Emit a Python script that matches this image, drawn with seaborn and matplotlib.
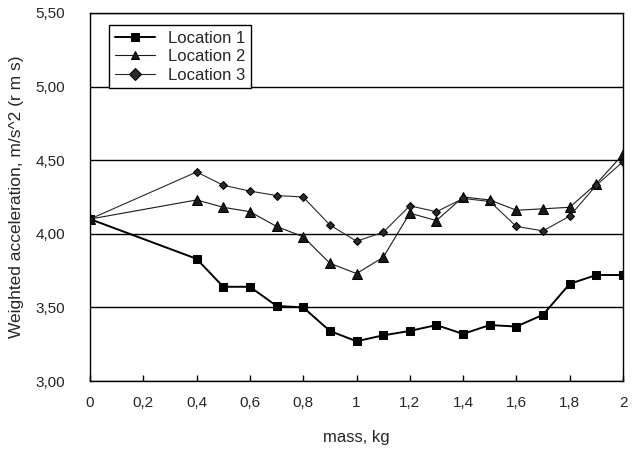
import matplotlib
matplotlib.use("Agg")
import matplotlib.pyplot as plt
import seaborn as sns
import pandas as pd
from matplotlib.ticker import FuncFormatter, MultipleLocator

mass = [0, 0.4, 0.5, 0.6, 0.7, 0.8, 0.9, 1.0, 1.1, 1.2, 1.3, 1.4, 1.5, 1.6, 1.7, 1.8, 1.9, 2.0]
loc1 = [4.10, 3.83, 3.64, 3.64, 3.51, 3.50, 3.34, 3.27, 3.31, 3.34, 3.38, 3.32, 3.38, 3.37, 3.45, 3.66, 3.72, 3.72]
loc2 = [4.10, 4.23, 4.18, 4.15, 4.05, 3.98, 3.80, 3.73, 3.84, 4.14, 4.09, 4.25, 4.23, 4.16, 4.17, 4.18, 4.34, 4.54]
loc3 = [4.10, 4.42, 4.33, 4.29, 4.26, 4.25, 4.06, 3.95, 4.01, 4.19, 4.15, 4.24, 4.22, 4.05, 4.02, 4.12, 4.33, 4.49]
series_names = ["Location 1", "Location 2", "Location 3"]

df = pd.DataFrame({"mass": mass * 3,
                   "acc": loc1 + loc2 + loc3,
                   "loc": [series_names[0]] * len(mass) + [series_names[1]] * len(mass) + [series_names[2]] * len(mass)})

sns.set_theme(style="white")
plt.rcParams['font.family'] = ['Liberation Sans Narrow', 'Liberation Sans', 'DejaVu Sans']

fig = plt.figure(figsize=(6.38, 4.58), dpi=100)
ax = fig.add_axes([90/638, 1 - 381/458, (623-90)/638, (381-13)/458])

sns.lineplot(data=df, x="mass", y="acc", hue="loc", style="loc",
             palette=["black", "#1a1a1a", "#2a2a2a"],
             markers={"Location 1": "s", "Location 2": "^", "Location 3": "D"},
             dashes=False, markersize=6, linewidth=1.0, ax=ax,
             markeredgecolor="black", legend=True)

for line, ms, lw in zip(ax.lines[:3], [6, 6.5, 4.5], [1.4, 0.8, 0.8]):
    line.set_markersize(ms)
    line.set_linewidth(lw)

ax.set_xlim(0, 2)
ax.set_ylim(3.0, 5.5)
ax.xaxis.set_major_locator(MultipleLocator(0.2))
ax.yaxis.set_major_locator(MultipleLocator(0.5))
ax.xaxis.set_major_formatter(FuncFormatter(lambda v, p: ("%g" % round(v, 1)).replace(".", ",")))
ax.yaxis.set_major_formatter(FuncFormatter(lambda v, p: ("%.2f" % v).replace(".", ",")))
ax.grid(axis="y", color="black", linewidth=1.0)
ax.grid(axis="x", visible=False)
for s in ax.spines.values():
    s.set_color("black")
    s.set_linewidth(1.0)
    s.set_visible(True)
ax.tick_params(axis="x", direction="in", length=4, width=1, color="black", bottom=True, labelsize=11, pad=11)
ax.tick_params(axis="y", length=0, labelsize=11, pad=18)
ax.set_xlabel("mass, kg", fontsize=12, labelpad=14)
ax.set_ylabel("Weighted acceleration, m/s^2 (r m s)", fontsize=12.5, labelpad=8)

leg = ax.legend(loc="upper left", bbox_to_anchor=(0.02, 0.99), fontsize=12, frameon=True,
                fancybox=False, edgecolor="black", framealpha=1, handlelength=2.4,
                borderpad=0.35, labelspacing=0.2, title=None)
leg.get_frame().set_linewidth(1.0)
for h, lw in zip(leg.get_lines(), [1.4, 0.8, 0.8]):
    h.set_linewidth(lw)

fig.savefig("out.png", dpi=100)
